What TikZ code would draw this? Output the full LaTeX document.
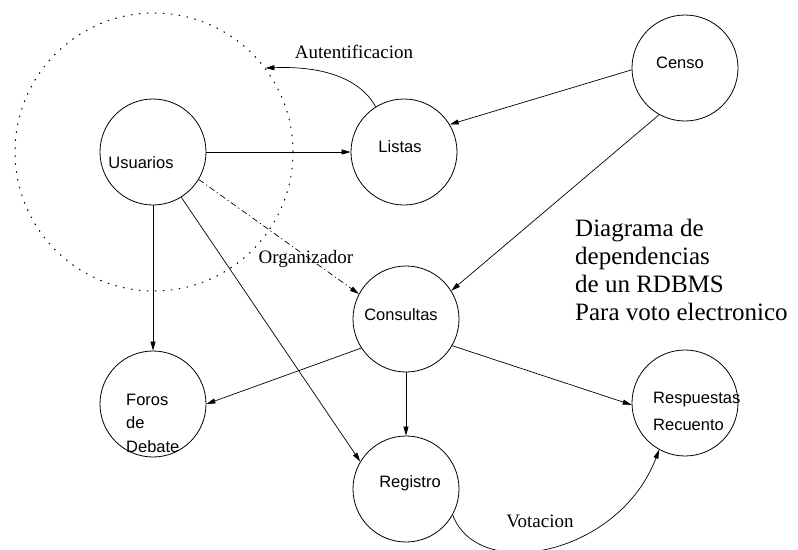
\documentclass[tikz,border=0pt]{standalone}
\usepackage{fontspec}
\setmainfont{Liberation Serif}
\setsansfont{Liberation Sans}
\usetikzlibrary{arrows.meta}
\begin{document}
\begin{tikzpicture}[x=1pt,y=-1pt,
  entity/.style={circle,draw,line width=0.8pt,minimum size=106pt,inner sep=0pt},
  ent/.style={font=\sffamily\fontsize{16.5}{27}\selectfont,inner sep=0pt},
  rel/.style={font=\fontsize{19}{21}\selectfont,inner sep=0pt},
  dep/.style={-{Triangle[length=9pt,width=5pt]},line width=0.7pt},
]
\useasboundingbox (0,0) rectangle (798,549);

% entities
\node[entity] (usu) at (153,152) {};
\node[entity] (lis) at (404,152) {};
\node[entity] (cen) at (685,68) {};
\node[entity] (con) at (406,319) {};
\node[entity] (for) at (153,404) {};
\node[entity] (reg) at (406,489) {};
\node[entity] (res) at (685,403) {};

% dotted scope around the users
\node[circle,draw,line width=1pt,dash pattern=on 1.5pt off 6.5pt,
      minimum size=278pt,inner sep=0pt] (ring) at (154,152) {};

% entity names
\node[ent,anchor=base] (usu-t) at (141,168) {Usuarios};
\node[ent,anchor=base] (lis-t) at (400,152) {Listas};
\node[ent,anchor=base] (cen-t) at (680,68) {Censo};
\node[ent,anchor=base] (con-t) at (401,320) {Consultas};
\node[ent,anchor=base] (reg-t) at (410,487) {Registro};
\node[ent,anchor=base west,align=left,font=\sffamily\fontsize{16.5}{27}\selectfont]
  (res-t) at (653,430) {Respuestas\\Recuento};
\node[ent,anchor=base west,align=left,font=\sffamily\fontsize{16.5}{23.5}\selectfont]
  (for-t) at (126,452) {Foros\\de\\Debate};

% title
\node[anchor=base west,align=left,inner sep=0pt,font=\fontsize{25}{27.7}\selectfont]
  (title) at (575,320) {Diagrama de\\dependencias\\de un RDBMS\\Para voto electronico};

% dependencies
\draw[dep] (usu.east) -- (lis.west);
\draw[dep] (lis.122) .. controls +(-18,-32) and +(50,-2) .. (ring.37);
\draw[dep] (cen.182) -- (lis.31);
\draw[dep] (cen.241) -- (con.32);
\draw[dep,dash pattern=on 6pt off 3pt on 1.2pt off 3pt] (usu.-31) -- (con.152);
\draw[dep] (usu.south) -- (for.north);
\draw[dep] (usu.-58) -- (reg.149);
\draw[dep] (con.213) -- (for.east);
\draw[dep] (con.south) -- (reg.north);
\draw[dep] (con.-30) -- (res.182);
\draw[dep] (reg.-29) .. controls +(25,68) and +(-40,106) .. (res.241);

% dependency labels
\node[rel,anchor=base] (aut-t) at (354,58) {Autentificacion};
\node[rel,anchor=base] (org-t) at (306,263) {Organizador};
\node[rel,anchor=base] (vot-t) at (540,527) {Votacion};
\end{tikzpicture}
\end{document}
